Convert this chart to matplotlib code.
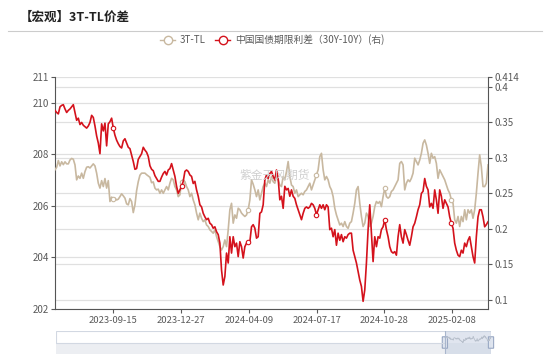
import numpy as np
import matplotlib
matplotlib.use("Agg")
import matplotlib.pyplot as plt
from matplotlib.patches import Rectangle, FancyBboxPatch

plt.rcParams['font.family'] = ['Noto Sans CJK SC', 'DejaVu Sans']

# 3T-TL 价差（左轴）
spread_3t_tl = [
    207.40, 207.50, 207.76, 207.55, 207.71, 207.60, 207.71, 207.63, 207.63, 207.78,
    207.84, 207.81, 207.59, 207.01, 207.16, 207.07, 207.27, 207.07, 207.33, 207.50,
    207.52, 207.47, 207.55, 207.63, 207.55, 207.27, 206.88, 206.69, 206.98, 206.75,
    207.06, 206.69, 206.98, 206.17, 206.34, 206.26, 206.30, 206.23, 206.26, 206.36,
    206.47, 206.39, 206.30, 206.08, 206.04, 206.28, 206.17, 205.74, 206.04, 206.59,
    206.94, 207.19, 207.27, 207.27, 207.27, 207.21, 207.16, 207.11, 206.90, 206.93,
    206.69, 206.62, 206.65,
    206.49, 206.62, 206.49, 206.62, 206.75, 206.62, 206.88, 207.07, 207.01, 206.75,
    206.62, 206.36, 206.43, 206.94, 207.01, 206.94, 206.75, 206.62, 206.36, 206.49,
    206.23, 206.04, 205.72, 205.46, 205.72, 205.52, 205.39, 205.46, 205.26, 205.20,
    205.07, 205.01, 204.94, 205.07, 204.81, 204.62, 204.42, 204.29, 204.42, 204.68,
    204.42, 205.07, 205.85, 206.10, 205.33, 205.65, 205.52, 205.91, 205.85, 205.72,
    205.65, 205.59, 205.65, 205.85, 206.23, 207.01, 206.84, 206.62, 206.36, 206.62,
    206.23, 206.49, 206.75,
    206.88, 206.75, 207.01, 206.88, 207.14, 206.94, 206.88, 207.20, 207.01, 206.81,
    206.75, 207.14, 207.01, 207.33, 207.72, 207.14, 206.81, 206.75, 206.49, 206.62,
    206.36, 206.43, 206.49, 206.43, 206.56, 206.62, 206.75, 206.88, 206.62, 206.81,
    207.01, 207.20, 207.40, 207.91, 208.04, 207.40, 207.01, 207.14, 207.01, 206.75,
    206.62, 206.36, 205.91, 205.65, 205.46, 205.26, 205.33, 205.20, 205.39, 205.20,
    205.13, 205.33, 205.39, 205.72, 206.10, 206.62, 206.75, 206.10, 205.59, 205.20,
    205.33, 205.72, 205.59,
    205.20, 205.33, 205.59, 205.97, 206.17, 206.10, 206.17, 205.97, 206.36, 206.69,
    206.36, 206.30, 206.36, 206.56, 206.62, 206.75, 206.88, 207.01, 207.65, 207.72,
    207.59, 206.62, 206.88, 207.01, 206.94, 207.07, 207.27, 207.85, 207.72, 207.59,
    207.78, 208.04, 208.43, 208.56, 208.36, 208.04, 207.65, 208.04, 207.85, 207.91,
    207.65, 207.07, 207.40, 207.27, 207.14, 207.01, 206.81, 206.62, 206.49, 206.23,
    206.10, 205.46, 205.33, 205.59, 205.20, 205.59, 205.39, 205.85, 205.46, 205.85,
    205.72, 205.85, 205.52, 205.85, 206.49, 207.27, 207.98, 207.52, 206.75, 206.75,
    206.88, 207.59,
]

# 中国国债期限利差（30Y-10Y），右轴
term_spread = [
    0.367, 0.364, 0.362, 0.372, 0.374, 0.375, 0.369, 0.364, 0.367, 0.369,
    0.372, 0.375, 0.364, 0.353, 0.356, 0.347, 0.350, 0.346, 0.344, 0.342,
    0.345, 0.350, 0.360, 0.357, 0.345, 0.331, 0.321, 0.306, 0.348, 0.338,
    0.349, 0.317, 0.348, 0.351, 0.356, 0.342, 0.332, 0.325, 0.320, 0.316,
    0.314, 0.324, 0.327, 0.321, 0.315, 0.313, 0.304, 0.295, 0.284, 0.285,
    0.298, 0.302, 0.306, 0.315, 0.311, 0.308, 0.302, 0.289, 0.284, 0.282,
    0.275, 0.271, 0.267,
    0.267, 0.273, 0.278, 0.281, 0.276, 0.283, 0.285, 0.292, 0.283, 0.274,
    0.260, 0.250, 0.255, 0.260, 0.267, 0.281, 0.283, 0.281, 0.276, 0.274,
    0.264, 0.267, 0.255, 0.246, 0.234, 0.231, 0.222, 0.217, 0.213, 0.215,
    0.208, 0.206, 0.201, 0.203, 0.196, 0.192, 0.180, 0.142, 0.121, 0.133,
    0.166, 0.152, 0.189, 0.166, 0.189, 0.175, 0.180, 0.161, 0.182, 0.175,
    0.159, 0.175, 0.180, 0.181, 0.182, 0.203, 0.206, 0.201, 0.187, 0.189,
    0.222, 0.224, 0.234,
    0.269, 0.276, 0.271, 0.278, 0.281, 0.274, 0.269, 0.283, 0.271, 0.241,
    0.246, 0.229, 0.260, 0.255, 0.257, 0.246, 0.255, 0.246, 0.243, 0.234,
    0.227, 0.220, 0.213, 0.222, 0.229, 0.231, 0.229, 0.231, 0.236, 0.234,
    0.229, 0.220, 0.227, 0.234, 0.229, 0.234, 0.227, 0.234, 0.231, 0.199,
    0.201, 0.189, 0.199, 0.177, 0.194, 0.184, 0.192, 0.182, 0.189, 0.187,
    0.192, 0.194, 0.194, 0.170, 0.161, 0.152, 0.140, 0.128, 0.119, 0.098,
    0.114, 0.152, 0.199,
    0.234, 0.194, 0.154, 0.189, 0.175, 0.189, 0.187, 0.199, 0.203, 0.213,
    0.199, 0.189, 0.175, 0.168, 0.166, 0.168, 0.163, 0.189, 0.206, 0.189,
    0.180, 0.199, 0.192, 0.184, 0.177, 0.189, 0.203, 0.208, 0.217, 0.227,
    0.234, 0.250, 0.253, 0.271, 0.260, 0.255, 0.231, 0.236, 0.229, 0.255,
    0.241, 0.222, 0.255, 0.246, 0.229, 0.241, 0.236, 0.231, 0.217, 0.208,
    0.201, 0.180, 0.170, 0.163, 0.161, 0.170, 0.166, 0.180, 0.175, 0.184,
    0.189, 0.175, 0.161, 0.152, 0.189, 0.217, 0.227, 0.227, 0.217, 0.203,
    0.206, 0.210,
]

date_labels = ['2023-09-15', '2023-12-27', '2024-04-09', '2024-07-17', '2024-10-28', '2025-02-08']
date_pos = [35, 75.7, 116.4, 157.1, 197.8, 238.5]

left_ticks = [202, 204, 206, 208, 210, 211]
right_ticks = [0.1, 0.15, 0.2, 0.25, 0.3, 0.35, 0.4, 0.414]
right_labels = ['0.1', '0.15', '0.2', '0.25', '0.3', '0.35', '0.4', '0.414']

TAN = '#c8b8a0'
RED = '#d4121c'
GRID = '#e0e0e0'
TXT = '#5a5a5a'

x = np.arange(len(spread_3t_tl))
marks = [int(round(p)) for p in date_pos]

fig = plt.figure(figsize=(5.5, 3.56), dpi=100)
ax1 = fig.add_axes([55 / 550, 1 - 309 / 356, 433 / 550, 232 / 356])
ax2 = ax1.twinx()
ax1.set_zorder(2)
ax2.set_zorder(1)
ax1.patch.set_visible(False)

ax1.set_xlim(0, len(x) - 1)
ax1.set_ylim(202, 211)
ax2.set_ylim(0.0872, 0.414)

# 网格线（两个轴的刻度都画）
ax1.set_yticks(left_ticks)
ax1.set_yticklabels([str(t) for t in left_ticks])
ax2.set_yticks(right_ticks)
ax2.set_yticklabels(right_labels)
for t in left_ticks[:-1]:
    ax1.axhline(t, color=GRID, lw=0.9, zorder=0)
for t in right_ticks:
    ax2.axhline(t, color=GRID, lw=0.9, zorder=0)

ax1.plot(x, spread_3t_tl, color=TAN, lw=1.2, zorder=3,
         marker='o', markevery=marks, ms=3.2, mfc='white', mec=TAN, mew=0.8)
ax1.plot(x, term_spread, color=RED, lw=1.2, zorder=4, transform=ax2.transData,
         marker='o', markevery=marks, ms=3.2, mfc='white', mec=RED, mew=0.8)

ax1.set_xticks(date_pos)
ax1.set_xticklabels(date_labels)

for ax in (ax1, ax2):
    ax.spines['top'].set_visible(False)
    ax.tick_params(colors=TXT, labelsize=7, length=3, width=0.8)
ax1.spines['right'].set_visible(False)
ax2.spines['left'].set_visible(False)
ax2.spines['bottom'].set_visible(False)
ax1.spines['left'].set_color('#555555')
ax2.spines['right'].set_color('#555555')
ax1.spines['bottom'].set_color('#555555')
ax1.tick_params(axis='x', labelsize=6.8, pad=2)
ax1.tick_params(axis='y', pad=1.5)
ax2.tick_params(axis='y', pad=1.5)

# 水印
fig.text(275 / 550, 1 - 175 / 356, '紫金天风期货', color='#d0d0d0', fontsize=8.5,
         ha='center', va='center', zorder=10)

# 标题和分隔线
fig.text(20 / 550, 1 - 17 / 356, '【宏观】3T-TL价差', fontsize=9, fontweight='bold',
         color='#222222', va='center', ha='left')
fig.add_artist(plt.Line2D([8 / 550, 542 / 550], [1 - 31 / 356, 1 - 31 / 356],
                          color='#cccccc', lw=0.8))

# 图例
ly = 1 - 40 / 356
for x0, col, label in [(160, TAN, '3T-TL'), (215, RED, '中国国债期限利差（30Y-10Y）(右)')]:
    fig.add_artist(plt.Line2D([x0 / 550, (x0 + 15) / 550], [ly, ly], color=col, lw=1.0))
    fig.add_artist(plt.Line2D([(x0 + 7.5) / 550], [ly], marker='o', ms=6,
                              mfc='white', mec=col, mew=1.0))
    fig.text((x0 + 20) / 550, ly, label, fontsize=7, color=TXT, va='center', ha='left')

# 底部缩放条
sl = fig.add_axes([56 / 550, 1 - 354 / 356, 435 / 550, 23 / 356])
sl.set_xlim(0, 1)
sl.set_ylim(0, 1)
sl.axis('off')
sl.add_patch(Rectangle((0, 0), 1, 1, fc='white', ec='#d2d8e2', lw=0.8))
sl.add_patch(Rectangle((0, 0), 1, 0.5, fc='#eceef2', ec='none'))
sl.plot([0, 0.894], [0.5, 0.5], color='#d2d8e2', lw=0.8)
tan_arr = np.array(spread_3t_tl)
wx = 0.894 + (1 - 0.894) * x / x[-1]
wy = 0.5 + 0.3 * (tan_arr - tan_arr.min()) / (tan_arr.max() - tan_arr.min())
sl.plot(wx, wy, color='#b8c0cc', lw=0.6)
sl.add_patch(Rectangle((0.894, 0), 0.106, 1, fc='#c7d1e3', ec='none', alpha=0.55))
for hx in (0.894, 1.0):
    sl.plot([hx, hx], [0, 1], color='#a9b6cc', lw=0.8)
    sl.add_patch(FancyBboxPatch((hx - 0.006, 0.25), 0.012, 0.5,
                                boxstyle='round,pad=0,rounding_size=0.004',
                                fc='#dfe5ef', ec='#9aa9c4', lw=0.8, clip_on=False))

fig.savefig('out.png', dpi=100)
